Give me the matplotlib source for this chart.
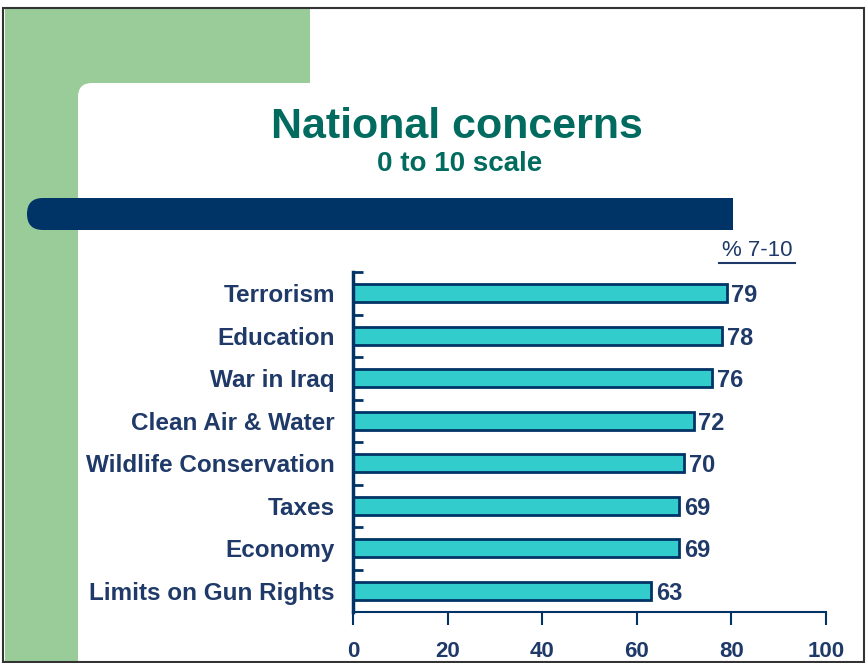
import matplotlib
matplotlib.use("Agg")
import matplotlib.pyplot as plt
from matplotlib.patches import Rectangle, FancyBboxPatch
import numpy as np

categories = ["Terrorism", "Education", "War in Iraq", "Clean Air & Water",
              "Wildlife Conservation", "Taxes", "Economy", "Limits on Gun Rights"]
values = [79, 78, 76, 72, 70, 69, 69, 63]
xticks = [0, 20, 40, 60, 80, 100]

W, H = 867, 663
NAVY = "#1F3A68"
DARK = "#003366"
GREEN = "#99CC99"
TEAL = "#006B5E"
BARC = "#33CCCC"

plt.rcParams['font.family'] = ['Liberation Sans', 'DejaVu Sans']
fig = plt.figure(figsize=(W / 100, H / 100), dpi=100)

# Background overlay in pixel coordinates
bg = fig.add_axes([0, 0, 1, 1], zorder=0)
bg.set_xlim(0, W)
bg.set_ylim(H, 0)
bg.axis("off")
bg.add_patch(Rectangle((5, 8), 73, H - 8, color=GREEN, lw=0))
bg.add_patch(Rectangle((5, 8), 305, 75, color=GREEN, lw=0))
bg.add_patch(Rectangle((5, 8), 100, 100, color=GREEN, lw=0))
bg.add_patch(FancyBboxPatch((78, 83), 790, 590, boxstyle="round,pad=0,rounding_size=14",
                            color="white", lw=0))
bg.add_patch(Rectangle((3, 8), W - 6, H - 9, fill=False, ec="#333333", lw=1.5))
# navy band
bg.add_patch(FancyBboxPatch((27, 198), 706, 32, boxstyle="round,pad=0,rounding_size=16",
                            color=DARK, lw=0))
bg.add_patch(Rectangle((100, 198), 633, 32, color=DARK, lw=0))
bg.text(457, 127, "National concerns", ha="center", va="center", color=TEAL,
        fontsize=31, fontweight="bold")
bg.text(460, 164, "0 to 10 scale", ha="center", va="center", color=TEAL,
        fontsize=20, fontweight="bold")
bg.text(757, 251, "% 7-10", ha="center", va="center", color=NAVY, fontsize=16)
bg.plot([719, 795], [263, 263], color=NAVY, lw=1.5)

# Chart axes
left, right, top, bottom = 353, 826, 272, 612
ax = fig.add_axes([left / W, (H - bottom) / H, (right - left) / W, (bottom - top) / H], zorder=2)
ax.patch.set_alpha(0)
y = np.arange(len(categories))
ax.barh(y, values, height=0.42, color=BARC, edgecolor=DARK, linewidth=2)
ax.set_xlim(0, 100)
ax.set_ylim(len(categories) - 0.5, -0.5)
for yi, v in zip(y, values):
    ax.text(v + 1.0, yi, str(v), va="center_baseline", ha="left", color=NAVY,
            fontsize=17, fontweight="bold")
ax.set_yticks(y)
ax.set_yticklabels(categories, color=NAVY, fontsize=17.5, fontweight="bold")
ax.set_yticks(np.arange(-0.5, len(categories) - 0.5, 1), minor=True)
ax.tick_params(axis="y", which="major", length=0, pad=13)
ax.tick_params(axis="y", which="minor", direction="in", length=7, width=2, color=DARK)
ax.set_xticks(xticks)
ax.set_xticklabels([str(t) for t in xticks], color=NAVY, fontsize=16, fontweight="bold")
ax.tick_params(axis="x", direction="out", length=9, width=1.5, color=DARK, pad=12)
for s in ["top", "right"]:
    ax.spines[s].set_visible(False)
ax.spines["left"].set_color(DARK)
ax.spines["left"].set_linewidth(2.5)
ax.spines["bottom"].set_color(DARK)
ax.spines["bottom"].set_linewidth(1.5)

fig.savefig("out.png", dpi=100)
